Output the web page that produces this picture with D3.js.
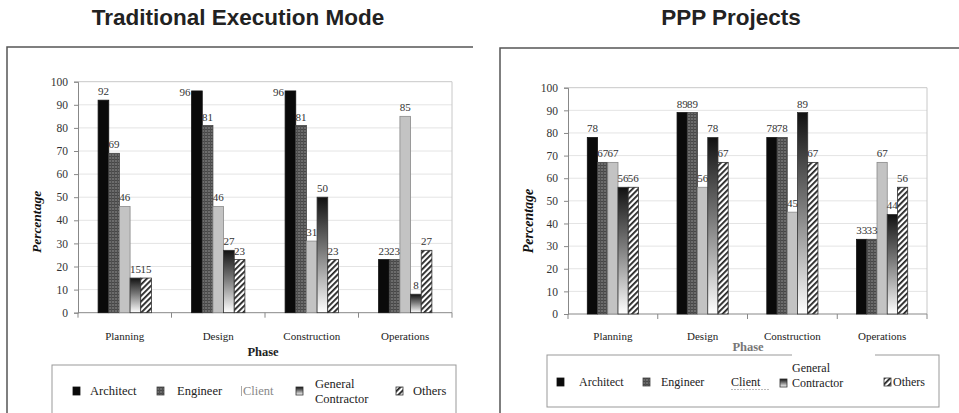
<!DOCTYPE html>
<html>
<head>
<meta charset="utf-8">
<script src="https://cdn.jsdelivr.net/npm/d3@7"></script>
<style>
  html, body { margin: 0; padding: 0; background: #fff; }
  svg { display: block; }
</style>
</head>
<body>
<svg id="chart" width="959" height="413"></svg>
<script>
// ---- data ----
const categories = ["Planning", "Design", "Construction", "Operations"];
const seriesNames = ["Architect", "Engineer", "Client", "General Contractor", "Others"];
const yTicks = [0, 10, 20, 30, 40, 50, 60, 70, 80, 90, 100];

// Traditional execution mode (% involvement per phase)
const tradArchitect = [92, 96, 96, 23];
const tradEngineer  = [69, 81, 81, 23];
const tradClient    = [46, 46, 31, 85];
const tradGC        = [15, 27, 50, 8];
const tradOthers    = [15, 23, 23, 27];

// PPP projects (% involvement per phase)
const pppArchitect = [78, 89, 78, 33];
const pppEngineer  = [67, 89, 78, 33];
const pppClient    = [67, 56, 45, 67];
const pppGC        = [56, 78, 89, 44];
const pppOthers    = [56, 67, 67, 56];

const svg = d3.select("#chart");
const serif = "'Liberation Serif', 'Times New Roman', serif";
const sans = "'Liberation Sans', Arial, sans-serif";

// ---- shared fills ----
const defs = svg.append("defs");
const eng = defs.append("pattern").attr("id", "engFill")
  .attr("patternUnits", "userSpaceOnUse").attr("width", 3).attr("height", 3);
eng.append("rect").attr("width", 3).attr("height", 3).attr("fill", "#6c6c6c");
eng.append("rect").attr("width", 3).attr("height", 1).attr("fill", "#474747");
eng.append("rect").attr("width", 1).attr("height", 3).attr("fill", "#505050");

const hatch = defs.append("pattern").attr("id", "hatchFill")
  .attr("patternUnits", "userSpaceOnUse").attr("width", 4).attr("height", 4)
  .attr("patternTransform", "rotate(45)");
hatch.append("rect").attr("width", 4).attr("height", 4).attr("fill", "#fff");
hatch.append("rect").attr("width", 1.8).attr("height", 4).attr("fill", "#222");

const grad = defs.append("linearGradient").attr("id", "gcFill")
  .attr("x1", 0).attr("y1", 0).attr("x2", 0).attr("y2", 1);
grad.append("stop").attr("offset", "0%").attr("stop-color", "#111");
grad.append("stop").attr("offset", "45%").attr("stop-color", "#777");
grad.append("stop").attr("offset", "100%").attr("stop-color", "#fff");

const fills = ["#0a0a0a", "url(#engFill)", "#c3c3c3", "url(#gcFill)", "url(#hatchFill)"];
const strokes = ["#111", "#444", "#8a8a8a", "#333", "#333"];

// ---- titles & panel frames ----
svg.append("text").attr("x", 238).attr("y", 25).attr("text-anchor", "middle")
  .attr("font-family", sans).attr("font-weight", "bold").attr("font-size", 22.5)
  .attr("fill", "#222").text("Traditional Execution Mode");
svg.append("text").attr("x", 731).attr("y", 25).attr("text-anchor", "middle")
  .attr("font-family", sans).attr("font-weight", "bold").attr("font-size", 22.5)
  .attr("fill", "#222").text("PPP Projects");

svg.append("path").attr("d", "M7,413 V47 H473").attr("fill", "none")
  .attr("stroke", "#555").attr("stroke-width", 1.5);
svg.append("path").attr("d", "M500,413 V48 H959").attr("fill", "none")
  .attr("stroke", "#555").attr("stroke-width", 1.5);

function drawPanel(opt, values) {
  const g = svg.append("g");
  const x = d3.scaleBand().domain(categories).range([opt.x0, opt.x1]);
  const y = d3.scaleLinear().domain([0, 100]).range([opt.yBot, opt.yTop]);
  const pad = x.bandwidth() * 0.215;
  const xs = d3.scaleBand().domain(seriesNames).range([pad, x.bandwidth() - pad]);

  // grid
  g.selectAll("line.grid").data(yTicks.slice(1)).join("line")
    .attr("x1", opt.x0).attr("x2", opt.x1)
    .attr("y1", d => y(d)).attr("y2", d => y(d))
    .attr("stroke", d => d === 100 ? "#c8c8c8" : "#e4e4e4").attr("stroke-width", 1);
  g.append("line").attr("x1", opt.x1).attr("x2", opt.x1)
    .attr("y1", opt.yTop).attr("y2", opt.yBot).attr("stroke", "#c8c8c8");

  // axes
  const yAxis = d3.axisLeft(y).tickValues(yTicks).tickSize(4).tickPadding(6);
  const ya = g.append("g").attr("transform", `translate(${opt.x0},0)`).call(yAxis);
  ya.select(".domain").attr("stroke", "#888");
  ya.selectAll(".tick line").attr("stroke", "#888");
  ya.selectAll(".tick text").attr("font-family", serif).attr("font-size", 11.5).attr("fill", "#333");

  const bounds = categories.map(c => x(c)).concat([opt.x1]);
  g.append("line").attr("x1", opt.x0).attr("x2", opt.x1)
    .attr("y1", opt.yBot).attr("y2", opt.yBot).attr("stroke", "#888");
  g.selectAll("line.xt").data(bounds).join("line")
    .attr("x1", d => d).attr("x2", d => d)
    .attr("y1", opt.yBot).attr("y2", opt.yBot + 5).attr("stroke", "#888");

  g.selectAll("text.cat").data(categories).join("text")
    .attr("x", d => x(d) + x.bandwidth() / 2).attr("y", opt.catY)
    .attr("text-anchor", "middle").attr("font-family", serif).attr("font-size", 11)
    .attr("fill", "#222").text(d => d);

  // bars
  seriesNames.forEach((s, si) => {
    const vals = values[si];
    const gs = g.append("g");
    gs.selectAll("rect").data(vals).join("rect")
      .attr("x", (d, i) => x(categories[i]) + xs(s))
      .attr("y", d => y(d))
      .attr("width", xs.bandwidth())
      .attr("height", d => opt.yBot - y(d))
      .attr("fill", fills[si]).attr("stroke", strokes[si]).attr("stroke-width", 0.8);
  });

  // value labels (drawn after bars so they sit on top)
  seriesNames.forEach((s, si) => {
    const vals = values[si];
    g.append("g").selectAll("text").data(vals).join("text")
      .each(function (d, i) {
        const bx = x(categories[i]) + xs(s);
        const top = y(d);
        const t = d3.select(this).attr("font-family", serif).attr("font-size", 11)
          .attr("fill", "#333").text(d);
        if (top - 15 < opt.yTop) {
          // no room above the plot: set label beside the bar
          t.attr("x", bx - 1).attr("y", top + 5).attr("text-anchor", "end");
        } else {
          t.attr("x", bx + xs.bandwidth() / 2).attr("y", top - 5).attr("text-anchor", "middle");
        }
      });
  });

  // axis titles
  g.append("text")
    .attr("transform", `translate(${opt.yTitleX},${opt.yTitleY}) rotate(-90)`)
    .attr("text-anchor", "middle").attr("font-family", serif)
    .attr("font-style", "italic").attr("font-weight", "bold")
    .attr("font-size", opt.yTitleSize).attr("fill", "#111").text("Percentage");
  g.append("text").attr("x", opt.phaseX).attr("y", opt.phaseY)
    .attr("text-anchor", "middle").attr("font-family", serif).attr("font-weight", "bold")
    .attr("font-size", 12.5).attr("fill", opt.phaseColor).text("Phase");

  return g;
}

drawPanel({x0: 78, x1: 452, yTop: 81.7, yBot: 312.7, catY: 340,
  yTitleX: 41, yTitleY: 222, yTitleSize: 13.5, phaseX: 263, phaseY: 356, phaseColor: "#222"},
  [tradArchitect, tradEngineer, tradClient, tradGC, tradOthers]);

drawPanel({x0: 568, x1: 927, yTop: 87.7, yBot: 314, catY: 340,
  yTitleX: 533, yTitleY: 221, yTitleSize: 14, phaseX: 748, phaseY: 351, phaseColor: "#777"},
  [pppArchitect, pppEngineer, pppClient, pppGC, pppOthers]);

// ---- legends ----
function swatch(g, i, sx, cy) {
  g.append("rect").attr("x", sx).attr("y", cy - 4).attr("width", 7).attr("height", 8)
    .attr("fill", fills[i]).attr("stroke", strokes[i]).attr("stroke-width", 0.8);
}
function legendText(g, tx, ty, str, size, color) {
  g.append("text").attr("x", tx).attr("y", ty).attr("font-family", serif)
    .attr("font-size", size).attr("fill", color || "#222").text(str);
}

// left legend
const L1 = svg.append("g");
L1.append("rect").attr("x", 52).attr("y", 365).attr("width", 404).attr("height", 70)
  .attr("fill", "#fff").attr("stroke", "#999");
swatch(L1, 0, 73, 391); legendText(L1, 90, 395, seriesNames[0], 12.5);
swatch(L1, 1, 157, 391); legendText(L1, 177, 395, seriesNames[1], 12.5);
L1.append("line").attr("x1", 241.5).attr("x2", 241.5).attr("y1", 386).attr("y2", 396).attr("stroke", "#aaa");
legendText(L1, 243, 395, seriesNames[2], 12.5, "#888");
swatch(L1, 3, 296, 391);
legendText(L1, 315, 388, "General", 12.5); legendText(L1, 315, 403, "Contractor", 12.5);
swatch(L1, 4, 396, 391); legendText(L1, 413, 395, seriesNames[4], 12.5);

// right legend
const L2 = svg.append("g");
L2.append("rect").attr("x", 547).attr("y", 355).attr("width", 392).attr("height", 52)
  .attr("fill", "#fff").attr("stroke", "#999");
L2.append("rect").attr("x", 792).attr("y", 349).attr("width", 83).attr("height", 16).attr("fill", "#fff");
swatch(L2, 0, 557, 382); legendText(L2, 579, 386, seriesNames[0], 12);
swatch(L2, 1, 643, 382); legendText(L2, 661, 386, seriesNames[1], 12);
legendText(L2, 731, 386, seriesNames[2], 12);
L2.append("line").attr("x1", 731).attr("x2", 770).attr("y1", 389.5).attr("y2", 389.5)
  .attr("stroke", "#bbb").attr("stroke-dasharray", "2,1");
swatch(L2, 3, 780, 383);
legendText(L2, 792, 372, "General", 12); legendText(L2, 792, 387, "Contractor", 12);
swatch(L2, 4, 884, 382); legendText(L2, 893, 386, seriesNames[4], 12);
</script>
</body>
</html>
